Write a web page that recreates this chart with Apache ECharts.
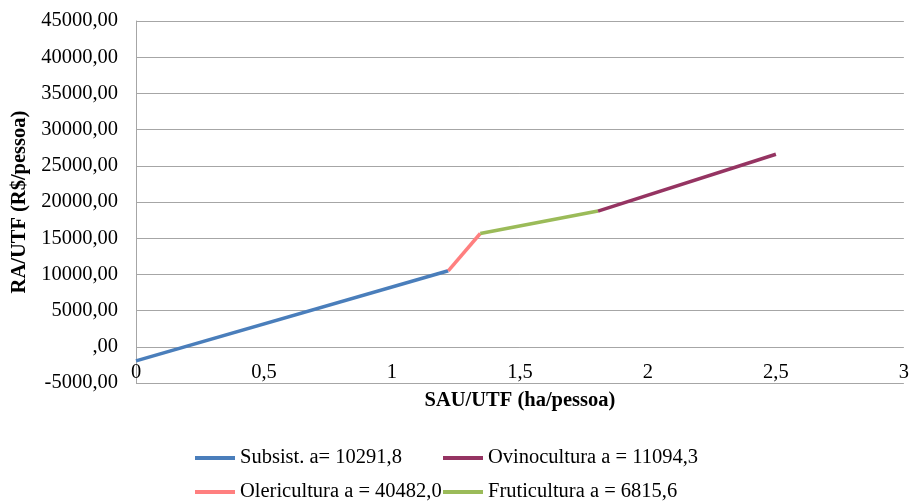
<!DOCTYPE html>
<html>
<head>
<meta charset="utf-8">
<script src="https://cdn.jsdelivr.net/npm/echarts@6/dist/echarts.min.js"></script>
<style>html,body{margin:0;padding:0;background:#fff}#c{width:912px;height:502px}</style>
</head>
<body>
<div id="c"></div>
<script>
var seriesNames = ['Subsist. a= 10291,8', 'Olericultura a = 40482,0', 'Fruticultura a = 6815,6', 'Ovinocultura a = 11094,3'];
var subsistX = [0, 1.22];
var subsistY = [-1950, 10500];
var olericulturaX = [1.22, 1.345];
var olericulturaY = [10500, 15650];
var fruticulturaX = [1.345, 1.805];
var fruticulturaY = [15650, 18750];
var ovinoculturaX = [1.805, 2.5];
var ovinoculturaY = [18750, 26600];
var xTicks = [0, 0.5, 1, 1.5, 2, 2.5, 3];
var yTicks = [-5000, 0, 5000, 10000, 15000, 20000, 25000, 30000, 35000, 40000, 45000];
var colors = ['#4A7EBB', '#FF7F7F', '#9BBB59', '#953462'];

function pairs(xs, ys) { return xs.map(function (x, i) { return [x, ys[i]]; }); }
var FONT = 'Liberation Serif';
var FS = 20.5;
var chart = echarts.init(document.getElementById('c'));
var seriesData = [pairs(subsistX, subsistY), pairs(olericulturaX, olericulturaY), pairs(fruticulturaX, fruticulturaY), pairs(ovinoculturaX, ovinoculturaY)];

function legendAt(name, left, top) {
  return { left: left, top: top, itemWidth: 40, itemHeight: 4, itemGap: 0, icon: 'rect', padding: 0,
    data: [name], textStyle: { fontFamily: FONT, fontSize: FS, color: '#000', lineHeight: 22 } };
}

chart.setOption({
  animation: false,
  textStyle: { fontFamily: FONT },
  grid: { left: 136, right: 8, top: 21, bottom: 119 },
  xAxis: {
    type: 'value', min: xTicks[0], max: xTicks[xTicks.length - 1], interval: 0.5,
    axisLine: { show: false },
    axisTick: { show: false },
    splitLine: { show: false },
    axisLabel: { fontFamily: FONT, fontSize: FS, color: '#000', margin: -21,
      formatter: function (v) { return String(v).replace('.', ','); } }
  },
  yAxis: {
    type: 'value', min: yTicks[0], max: yTicks[yTicks.length - 1], interval: 5000,
    name: 'RA/UTF (R$/pessoa)', nameLocation: 'middle', nameGap: 102, nameRotate: 90,
    nameTextStyle: { fontFamily: FONT, fontSize: FS, fontWeight: 'bold', color: '#000' },
    axisLine: { show: true, lineStyle: { color: '#A6A6A6', width: 1 } },
    axisTick: { show: false },
    splitLine: { show: true, lineStyle: { color: '#A6A6A6', width: 1 } },
    axisLabel: { fontFamily: FONT, fontSize: FS, color: '#000', margin: 18,
      formatter: function (v) { return v === 0 ? ',00' : v.toFixed(2).replace('.', ','); } }
  },
  legend: [
    legendAt(seriesNames[0], 195, 447),
    legendAt(seriesNames[1], 195, 481),
    legendAt(seriesNames[3], 443, 447),
    legendAt(seriesNames[2], 443, 481)
  ],
  graphic: [
    { type: 'text', x: 520, y: 390, style: { text: 'SAU/UTF (ha/pessoa)', fontFamily: FONT, fontSize: FS, fontWeight: 'bold', fill: '#000', textAlign: 'center' } }
  ],
  series: seriesData.map(function (d, i) {
    return { name: seriesNames[i], type: 'line', data: d, symbol: 'none', color: colors[i],
      lineStyle: { width: 3.5, color: colors[i] } };
  })
});
</script>
</body>
</html>
